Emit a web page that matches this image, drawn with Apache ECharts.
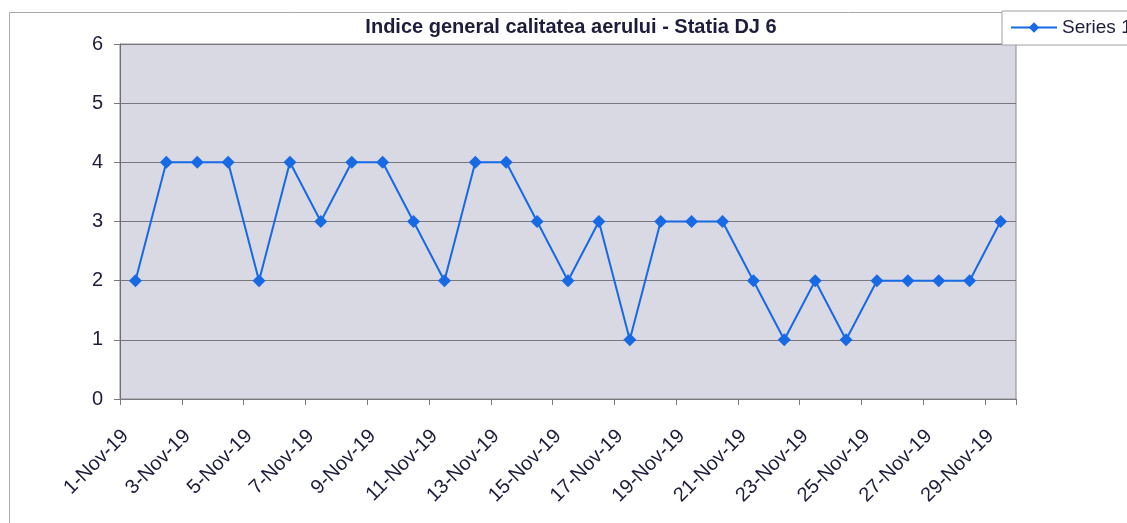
<!DOCTYPE html>
<html>
<head>
<meta charset="utf-8">
<title>Indice general calitatea aerului - Statia DJ 6</title>
<script src="https://cdn.jsdelivr.net/npm/echarts@6/dist/echarts.min.js"></script>
<style>
    html, body {
        margin: 0;
        padding: 0;
        background: #ffffff;
    }

    #chart {
        width: 1127px;
        height: 523px;
    }
</style>
</head>
<body>
<div id="chart"></div>
<script>
    // zile (categorii)
    var days = [
        '1-Nov-19', '2-Nov-19', '3-Nov-19', '4-Nov-19', '5-Nov-19', '6-Nov-19',
        '7-Nov-19', '8-Nov-19', '9-Nov-19', '10-Nov-19', '11-Nov-19', '12-Nov-19',
        '13-Nov-19', '14-Nov-19', '15-Nov-19', '16-Nov-19', '17-Nov-19', '18-Nov-19',
        '19-Nov-19', '20-Nov-19', '21-Nov-19', '22-Nov-19', '23-Nov-19', '24-Nov-19',
        '25-Nov-19', '26-Nov-19', '27-Nov-19', '28-Nov-19', '29-Nov-19'
    ];

    // indicele general
    var series1 = [
        2, 4, 4, 4, 2, 4, 3, 4, 4, 3,
        2, 4, 4, 3, 2, 3, 1, 3, 3, 3,
        2, 1, 2, 1, 2, 2, 2, 2, 3
    ];

    var yTicks = [0, 1, 2, 3, 4, 5, 6];

    var textColor = '#1c1c3c';
    var fontName = 'Liberation Sans, Arial, sans-serif';

    var chart = echarts.init(document.getElementById('chart'));

    chart.setOption({
        backgroundColor: '#fff',
        animation: false,
        graphic: [{
            // chenarul zonei graficului
            type: 'rect',
            left: 7,
            top: 10,
            shape: { width: 1300, height: 700 },
            style: { fill: 'none', stroke: '#a8a8a8', lineWidth: 1 },
            z: -1
        }],
        title: {
            text: 'Indice general calitatea aerului - Statia DJ 6',
            left: 566,
            textAlign: 'center',
            top: 12,
            textStyle: {
                color: textColor,
                fontFamily: fontName,
                fontSize: 20,
                fontWeight: 'bold'
            }
        },
        legend: {
            left: 1002,
            top: 11,
            padding: [7, 8, 8, 8],
            borderColor: '#a0a0a0',
            borderWidth: 1,
            backgroundColor: '#fff',
            itemWidth: 46,
            itemHeight: 13,
            itemGap: 6,
            selectedMode: false,
            textStyle: {
                color: textColor,
                fontFamily: fontName,
                fontSize: 19
            },
            data: ['Series 1']
        },
        grid: {
            left: 120,
            right: 111,
            top: 44,
            bottom: 124,
            show: true,
            backgroundColor: '#d8d9e3',
            borderColor: '#8a8a8e',
            borderWidth: 1
        },
        xAxis: {
            type: 'category',
            boundaryGap: true,
            data: days,
            axisLine: {
                show: true,
                lineStyle: { color: '#7a7a7e', width: 1 }
            },
            axisTick: {
                show: true,
                interval: 1,
                length: 6,
                lineStyle: { color: '#7a7a7e' }
            },
            axisLabel: {
                interval: 1,
                rotate: 45,
                margin: 24,
                padding: [0, 14, 0, 0],
                color: textColor,
                fontFamily: fontName,
                fontSize: 20
            },
            splitLine: { show: false }
        },
        yAxis: {
            type: 'value',
            min: yTicks[0],
            max: yTicks[yTicks.length - 1],
            interval: 1,
            axisLine: {
                show: true,
                lineStyle: { color: '#6e6e72', width: 1 }
            },
            axisTick: {
                show: true,
                length: 6,
                lineStyle: { color: '#7a7a7e' }
            },
            axisLabel: {
                margin: 17,
                color: textColor,
                fontFamily: fontName,
                fontSize: 20
            },
            splitLine: {
                show: true,
                lineStyle: { color: '#77777c', width: 1 }
            }
        },
        series: [{
            name: 'Series 1',
            type: 'line',
            data: series1,
            symbol: 'diamond',
            symbolSize: 13,
            showAllSymbol: true,
            itemStyle: { color: '#1769e4' },
            lineStyle: { color: '#1769e4', width: 2 }
        }]
    });
</script>
</body>
</html>
